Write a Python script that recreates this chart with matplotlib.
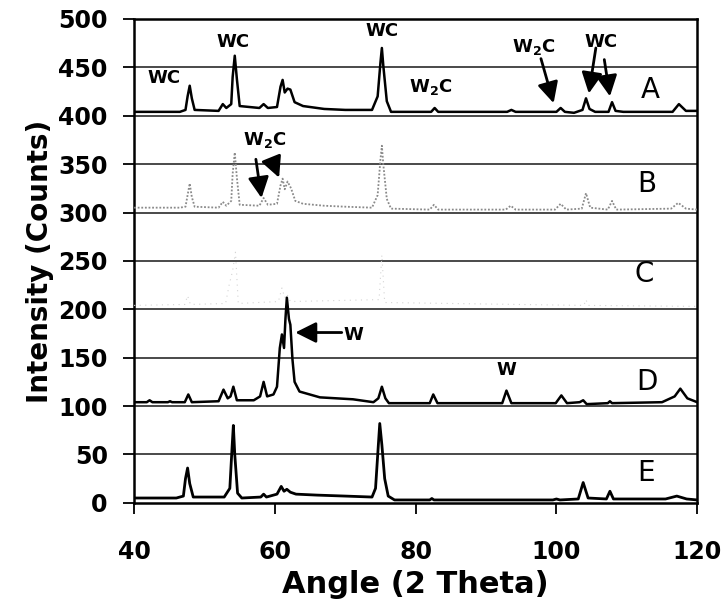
import numpy as np
import matplotlib
matplotlib.use('Agg')
import matplotlib.pyplot as plt

# XRD patterns: (angle, counts) pairs, each pattern already stacked
a_angle = [40, 46.5, 47.3, 47.6, 47.9, 48.2, 48.6, 52.0, 52.6, 53.1, 53.8, 54.0, 54.3, 54.6, 55.0,
           57.8, 58.4, 59.0, 60.3, 60.8, 61.1, 61.4, 61.8, 62.2, 62.8, 64.0, 65.0, 67.0, 70.0,
           73.8, 74.6, 75.0, 75.2, 75.4, 75.9, 76.5, 82.2, 82.7, 83.2, 93.0, 93.6, 94.2,
           100.0, 100.6, 101.2, 102.5, 103.7, 104.2, 104.7, 105.5, 107.4, 107.9, 108.4, 109.5,
           116.5, 117.4, 118.4, 120]
a_counts = [404, 404, 406, 420, 431, 418, 406, 405, 412, 408, 412, 440, 462, 438, 410,
            408, 412, 408, 409, 430, 437, 424, 428, 427, 414, 410, 409, 407, 406,
            406, 420, 455, 470, 452, 415, 404, 404, 408, 404, 404, 406, 404,
            404, 408, 404, 403, 406, 418, 407, 404, 404, 414, 405, 404,
            404, 412, 405, 405]

b_angle = [40, 46.5, 47.3, 47.6, 47.9, 48.2, 48.6, 52.0, 52.6, 53.1, 53.8, 54.0, 54.3, 54.6, 55.0,
           57.8, 58.4, 59.0, 60.3, 60.8, 61.1, 61.4, 61.8, 62.3, 62.9, 64.0, 67.0, 70.0,
           73.8, 74.6, 75.0, 75.2, 75.4, 75.9, 76.5, 82.0, 82.6, 83.2, 92.8, 93.5, 94.2,
           99.8, 100.6, 101.4, 103.6, 104.2, 104.8, 107.3, 107.9, 108.5, 116.3, 117.3, 118.4, 120]
b_counts = [305, 305, 306, 318, 330, 316, 306, 305, 311, 307, 312, 340, 362, 336, 308,
            307, 315, 308, 309, 328, 335, 324, 332, 325, 312, 309, 307, 306,
            305, 318, 355, 369, 350, 314, 304, 303, 308, 303, 303, 307, 303,
            303, 309, 303, 304, 320, 305, 303, 312, 303, 304, 310, 304, 303]

c_angle = [40, 47.2, 47.6, 48.0, 53.0, 53.5, 54.0, 54.4, 54.8, 60.5, 61.0, 61.4, 61.7, 62.2,
           74.8, 75.2, 75.6, 103.9, 104.2, 104.5, 120]
c_counts = [204, 205, 214, 205, 206, 225, 240, 259, 206, 208, 222, 212, 216, 208,
            210, 256, 207, 204, 210, 204, 203]

d_angle = [40, 41.8, 42.2, 42.6, 44.8, 45.1, 45.4, 47.2, 47.7, 48.2, 52.0, 52.7, 53.3, 53.7,
           54.1, 54.6, 57.0, 57.9, 58.4, 58.9, 59.8, 60.3, 60.7, 61.0, 61.3, 61.5, 61.7, 62.0,
           62.2, 62.5, 62.8, 63.5, 66.4, 71.1, 74.0, 74.7, 75.2, 75.7, 76.2, 82.0, 82.5, 83.1,
           92.3, 92.9, 93.6, 99.9, 100.7, 101.5, 103.3, 103.8, 104.3, 107.3, 107.6, 107.9,
           115.0, 116.8, 117.6, 118.6, 120]
d_counts = [104, 104, 106, 104, 104, 105, 104, 104, 112, 104, 105, 117, 108, 110,
            120, 106, 106, 110, 125, 110, 112, 120, 160, 174, 160, 190, 212, 190,
            184, 148, 125, 115, 109, 107, 104, 108, 120, 108, 103, 103, 112, 103,
            103, 116, 103, 103, 111, 103, 104, 106, 102, 103, 105, 103,
            104, 110, 118, 108, 104]

e_angle = [40, 46.0, 47.0, 47.3, 47.6, 47.9, 48.4, 52.8, 53.6, 53.9, 54.1, 54.3, 54.7, 55.3,
           58.0, 58.4, 58.8, 60.3, 60.9, 61.3, 61.7, 62.2, 63.0, 66.0, 70.0, 73.8, 74.3,
           74.7, 74.9, 75.2, 75.6, 76.1, 77.0, 82.0, 82.3, 82.6, 99.5, 100.0, 100.5,
           103.1, 103.8, 104.5, 107.1, 107.6, 108.1, 115.5, 117.1, 118.5, 120]
e_counts = [5, 5, 7, 25, 36, 20, 6, 6, 15, 55, 80, 50, 10, 5,
            6, 9, 6, 9, 17, 12, 14, 11, 9, 8, 7, 6, 15,
            60, 82, 60, 25, 7, 3, 3, 4.5, 3, 3, 4, 3,
            4, 21, 5, 4, 12, 4, 4, 7, 4, 3]

sample_names = ['A', 'B', 'C', 'D', 'E']
sample_label_pos = [(113.3, 427), (112.9, 329), (112.5, 236), (112.8, 125), (112.7, 31)]

plt.rcParams['font.family'] = 'DejaVu Sans'

fig = plt.figure(figsize=(7.21, 6.11), dpi=100)
ax = fig.add_axes([0.186, 0.177, 0.781, 0.792])

ax.set_xlim(40, 120)
ax.set_ylim(0, 500)
ax.set_yticks(np.arange(0, 501, 50))
ax.set_xticks([40, 60, 80, 100, 120])
for yv in np.arange(50, 500, 50):
    ax.axhline(yv, color='#3a3a3a', lw=1.3, zorder=1)

ax.plot(a_angle, a_counts, color='black', lw=1.8, zorder=3)
ax.plot(b_angle, b_counts, color='#8a8a8a', lw=1.3, ls=(0, (1, 1)), zorder=3)
ax.plot(c_angle, c_counts, color='#d4d4d4', lw=0.8, ls=(0, (1, 4)), zorder=3)
ax.plot(d_angle, d_counts, color='black', lw=1.8, zorder=3)
ax.plot(e_angle, e_counts, color='black', lw=2.0, zorder=3)

for name, (px, py) in zip(sample_names, sample_label_pos):
    ax.text(px, py, name, fontsize=20, ha='center', va='center', zorder=4)

bold = dict(fontsize=13, fontweight='bold', ha='center', va='center', zorder=4)
ax.text(44.2, 439, 'WC', **bold)
ax.text(54.1, 476, 'WC', **bold)
ax.text(75.2, 488, 'WC', **bold)
ax.text(82.1, 430, r'$\mathbf{W_2C}$', **bold)
ax.text(96.7, 471, r'$\mathbf{W_2C}$', **bold)
ax.text(106.4, 476, 'WC', **bold)
ax.text(58.6, 375, r'$\mathbf{W_2C}$', **bold)
ax.text(71.2, 173, 'W', **bold)
ax.text(92.9, 137, 'W', **bold)

arrow = dict(arrowstyle='-|>,head_length=0.9,head_width=0.45', lw=2, color='black',
             mutation_scale=14, shrinkA=0, shrinkB=0)
arrows = [((97.8, 459), (99.6, 413)),
          ((105.6, 470), (104.6, 423)),
          ((106.8, 458), (107.6, 420)),
          ((57.3, 355), (58.1, 315)),
          ((59.6, 354), (60.6, 336)),
          ((69.5, 176), (62.9, 176))]
for start, tip in arrows:
    ax.annotate('', xy=tip, xytext=start, arrowprops=arrow, zorder=5)

for s in ax.spines.values():
    s.set_linewidth(1.8)
    s.set_color('black')
ax.tick_params(axis='y', direction='out', length=8, width=1.3, pad=11, labelsize=17)
ax.tick_params(axis='x', direction='out', length=8, width=1.3, pad=19, labelsize=17)
for lbl in ax.get_xticklabels() + ax.get_yticklabels():
    lbl.set_fontweight('bold')

ax.set_xlabel('Angle (2 Theta)', fontsize=22, fontweight='bold', labelpad=4)
ax.set_ylabel('Intensity (Counts)', fontsize=20, fontweight='bold', labelpad=3)

fig.savefig('out.png', dpi=100)
